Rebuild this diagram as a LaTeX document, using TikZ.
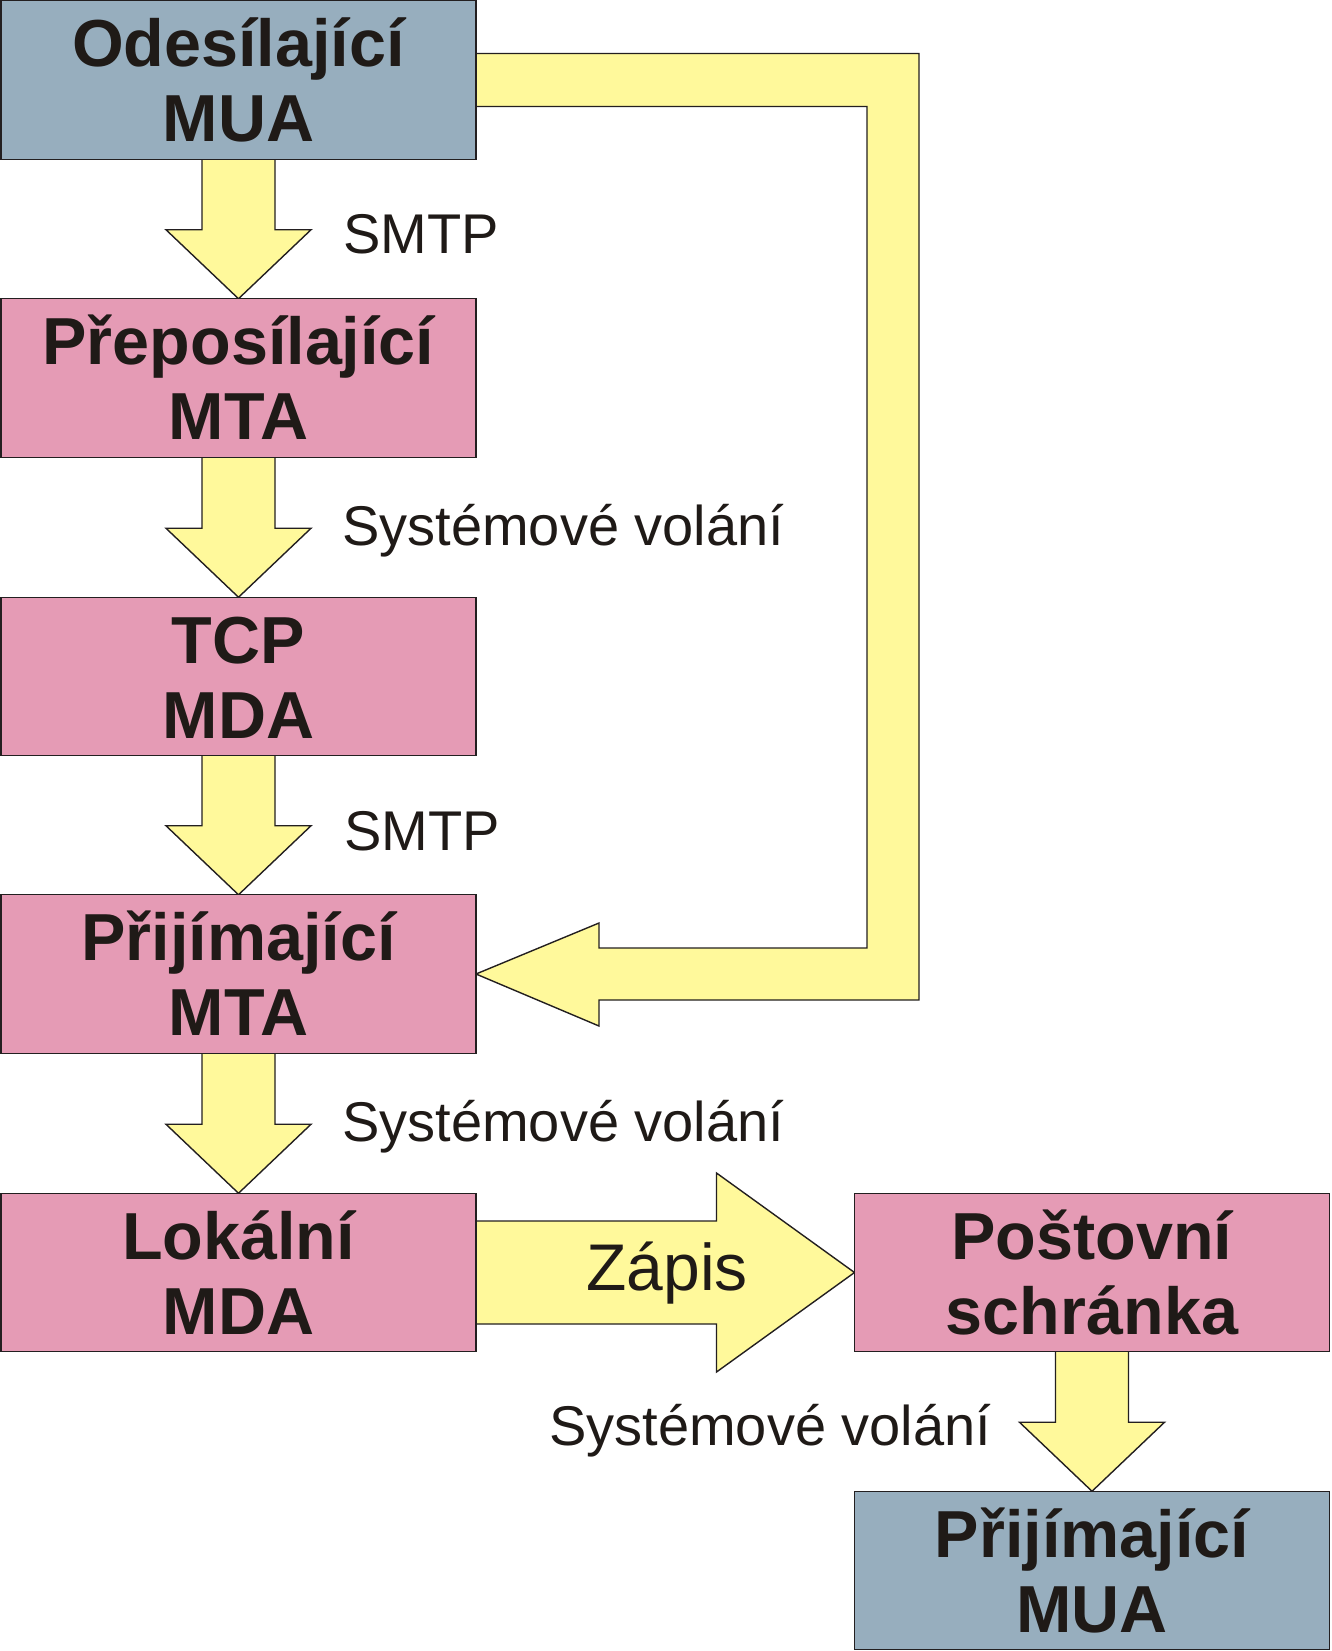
\documentclass[tikz,border=0pt]{standalone}
\usepackage{fontspec}
\setmainfont{Liberation Sans}
\usetikzlibrary{calc,backgrounds}
\definecolor{muablue}{HTML}{97AEBE}
\definecolor{mtapink}{HTML}{E59BB5}
\definecolor{flowyellow}{HTML}{FFF99B}
\definecolor{inkdark}{HTML}{1F1A17}
\definecolor{edgedark}{HTML}{231F20}
\newcommand\bxt[2]{\parbox[c][158.5pt][t]{470pt}{\centering\rule{0pt}{66pt}#1\\#2}}
\begin{document}
\begin{tikzpicture}[x=1pt,y=-1pt,
  boxbase/.style={draw=edgedark, line width=1.4pt, inner sep=0pt, outer sep=0pt,
    minimum width=475pt, minimum height=158.5pt, text=inkdark,
    font=\fontsize{66.5}{75}\selectfont\bfseries},
  muabox/.style={boxbase, fill=muablue},
  mtabox/.style={boxbase, fill=mtapink},
  flow/.style={fill=flowyellow, draw=edgedark, line width=1.4pt, line join=miter},
  lbl/.style={anchor=base west, inner sep=0pt, text=inkdark, font=\fontsize{56}{60}\selectfont}
]
\useasboundingbox (0,0) rectangle (1331,1651);

% boxes
\node[muabox] (A) at (238.5,80)    {\bxt{Odesílající}{MUA}};
\node[mtabox] (B) at (238.5,378)   {\bxt{Přeposílající}{MTA}};
\node[mtabox] (C) at (238.5,676.5) {\bxt{TCP}{MDA}};
\node[mtabox] (D) at (238.5,974)   {\bxt{Přijímající}{MTA}};
\node[mtabox] (E) at (238.5,1272.5){\bxt{Lokální}{MDA}};
\node[mtabox] (F) at (1092,1272.5) {\bxt{Poštovní}{schránka}};
\node[muabox] (G) at (1092,1570.5) {\bxt{Přijímající}{MUA}};

% block arrows
\begin{pgfonlayer}{background}
\foreach \a/\b in {A/B,B/C,C/D,D/E,F/G}{
  \filldraw[flow] ($(\a.south)+(-36.5,0)$) -- ($(\b.north)+(-36.5,-69)$)
    -- ($(\b.north)+(-72.5,-69)$) -- (\b.north) -- ($(\b.north)+(72.5,-69)$)
    -- ($(\b.north)+(36.5,-69)$) -- ($(\a.south)+(36.5,0)$);
}
% bypass arrow from sending MUA to receiving MTA
\filldraw[flow] ($(A.east)+(0,-26.5)$) -- ($(A.east)+(443,-26.5)$)
  -- ($(D.east)+(443,26)$) -- ($(D.east)+(123,26)$) -- ($(D.east)+(123,52)$)
  -- (D.east) -- ($(D.east)+(123,-51)$) -- ($(D.east)+(123,-26)$)
  -- ($(D.east)+(391,-26)$) -- ($(A.east)+(391,26.5)$) -- ($(A.east)+(0,26.5)$);
% write arrow
\filldraw[flow] ($(E.east)+(0,-51.5)$) -- ($(F.west)+(-138,-51.5)$)
  -- ($(F.west)+(-138,-99.5)$) -- (F.west) -- ($(F.west)+(-138,99.5)$)
  -- ($(F.west)+(-138,51.5)$) -- ($(E.east)+(0,51.5)$);
\end{pgfonlayer}

\node[anchor=base, inner sep=0pt, text=inkdark, font=\fontsize{66}{70}\selectfont]
  (zapis) at ($(E.east)!0.5!(F.west)+(2,17.5)$) {Zápis};

% labels
\node[lbl] (l1) at (343,253)  {SMTP};
\node[lbl] (l2) at (342,545)  {Systémové volání};
\node[lbl] (l3) at (344,850)  {SMTP};
\node[lbl] (l4) at (342,1141) {Systémové volání};
\node[lbl] (l5) at (549,1445) {Systémové volání};
\end{tikzpicture}
\end{document}
